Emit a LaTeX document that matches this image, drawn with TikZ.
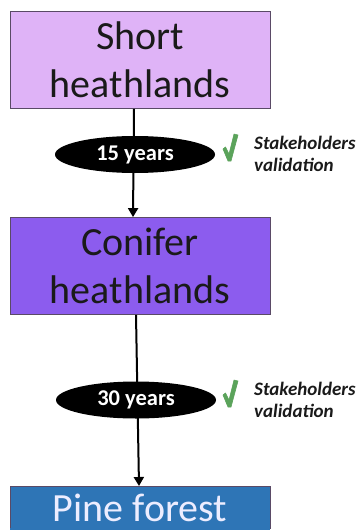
\documentclass[tikz,border=0pt]{standalone}
\usepackage{fontspec}
\setmainfont{Carlito}
\usetikzlibrary{shapes.geometric,arrows.meta}
\definecolor{boxA}{HTML}{DFB3F7}
\definecolor{boxB}{HTML}{8C5CEE}
\definecolor{boxC}{HTML}{2E75B6}
\definecolor{edgeA}{HTML}{5A4A66}
\definecolor{checkgreen}{HTML}{5BA35B}
\definecolor{textdark}{HTML}{1A1A1A}
\tikzset{
  statebox/.style={draw=edgeA, line width=0.8pt, minimum width=260pt, minimum height=97pt,
    inner sep=0pt, align=center, text=textdark, font=\fontsize{40}{48}\selectfont},
  period/.style={ellipse, fill=black, minimum width=160pt, minimum height=37pt, inner sep=0pt,
    text=white, font=\fontsize{22.5}{24}\selectfont\bfseries},
  conn/.style={line width=2pt, -{Triangle[length=9pt,width=10pt]}},
  valid/.style={anchor=west, align=left, inner sep=0pt, text=textdark,
    font=\fontsize{19}{22}\selectfont\bfseries\itshape},
  tickmark/.style={fill=checkgreen, draw=checkgreen, line width=0.6pt, line join=round}
}
\newcommand{\greentick}[1]{%
  \fill[tickmark, shift={(#1)}] (-7,-3) -- (-4.5,-5) -- (-1,2) -- (4,-18) -- (8,-17) -- (1,9) -- (-2,9) -- cycle;}
\begin{document}
\begin{tikzpicture}[x=1pt,y=-1pt]
\useasboundingbox (0,0) rectangle (360,530);
\clip (0,0) rectangle (360,530);
\fill[white] (0,0) rectangle (360,530);
% boxes
\node[statebox, fill=boxA] (b1) at (140,60) {Short\\heathlands};
\node[statebox, fill=boxB] (b2) at (140,266) {Conifer\\heathlands};
\node[statebox, fill=boxC, anchor=north, inner ysep=7pt, text height=28pt, text depth=0pt,
  minimum height=0pt, text=white!93!blue] (b3) at (140,486) {Pine forest};
\fill[boxC] ([xshift=0.4pt,yshift=1pt]b3.south west) rectangle ([xshift=-0.4pt,yshift=-8pt]b3.south east);
% connectors
\draw[conn] ([xshift=-6pt]b1.south) -- ([xshift=-7pt]b2.north);
\draw[conn] ([xshift=-4pt]b2.south) -- ([xshift=-1pt]b3.north);
% periods
\node[period] (p1) at (135,154.5) {15 years};
\node[period] (p2) at (136,400) {30 years};
% validation
\greentick{(230,152)}
\node[valid] (v1) at (254,154) {Stakeholders\\validation};
\greentick{(230,398)}
\node[valid] (v2) at (254,400) {Stakeholders\\validation};
\end{tikzpicture}
\end{document}
